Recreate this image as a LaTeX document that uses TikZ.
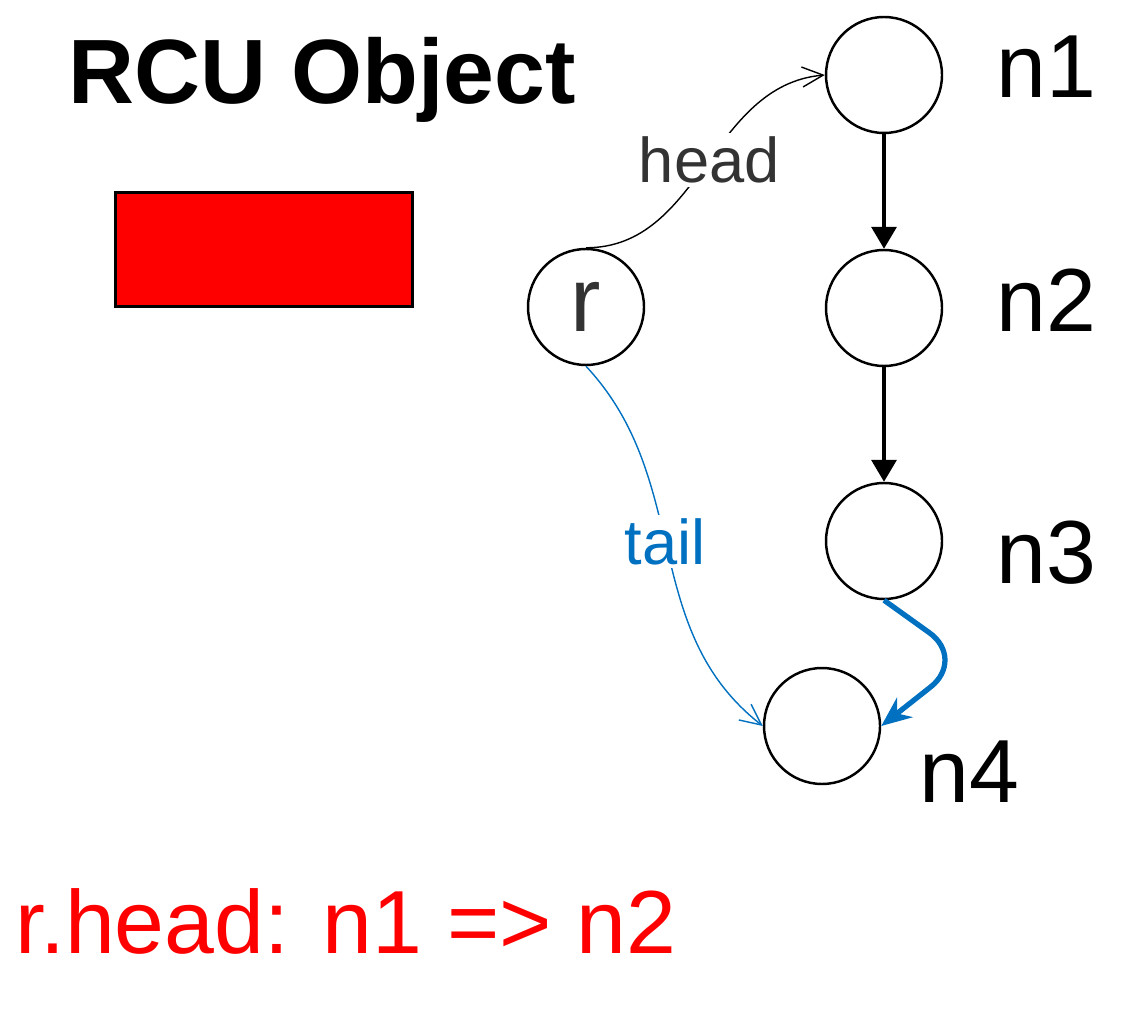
\documentclass[tikz,border=0pt]{standalone}
\usepackage{fontspec}
\setmainfont{Liberation Sans}
\usetikzlibrary{arrows.meta}
\definecolor{linkblue}{HTML}{0070C0}
\definecolor{labelgray}{HTML}{333333}

\begin{document}
\begin{tikzpicture}[x=0.02cm,y=0.02cm]
\useasboundingbox (0,0) rectangle (1141,1015);

\node (title) [anchor=base west,inner sep=0,font=\fontsize{52}{56}\selectfont\bfseries] at (68,911) {RCU Object};
\node (obj) [draw,fill=red,line width=1.5pt,minimum width=5.93cm,minimum height=2.27cm,inner sep=0] at (264,765.5) {};

\begin{scope}[every node/.style={circle,draw,line width=1.4pt,minimum size=2.32cm,inner sep=0}]
\node (n1) at (884,940) {};
\node (n2) at (884,707) {};
\node (n3) at (884,474) {};
\node (n4) at (822,289) {};
\node (r) at (586,708) [text=labelgray,font=\fontsize{52}{56}\selectfont] {r};
\end{scope}

\begin{scope}[every node/.style={anchor=base west,inner sep=0,font=\fontsize{51}{56}\selectfont}]
\node (l1) at (996,917) {n1};
\node (l2) at (996,683) {n2};
\node (l3) at (996,432) {n3};
\node (l4) at (919,213) {n4};
\node (note) [text=red] at (15,62) {r.head: n1 => n2};
\end{scope}

\coordinate (bend) at (966,356);

\begin{scope}[every node/.style={fill=white,inner sep=2pt,font=\fontsize{36}{40}\selectfont}]
\path [-{Triangle[length=4.4mm,width=5mm]}, line width=2pt] (n1) edge (n2) (n2) edge (n3);
\path [-{Straight Barb[length=4.2mm,width=4mm]}, line width=0.8pt] (r.north) edge[out=0,in=185] node[text=labelgray,pos=0.52] {head} (n1.west);
\path [-{Straight Barb[length=4.2mm,width=4mm]}, line width=0.8pt, linkblue] (r.south) edge[out=-47,in=142] node[pos=0.47] {tail} (n4.west);
\draw [linkblue, line width=3pt, rounded corners=9mm, -{Stealth[length=6mm,width=5mm]}] (n3.south) -- (bend) -- (n4.east);
\end{scope}
\end{tikzpicture}
\end{document}
